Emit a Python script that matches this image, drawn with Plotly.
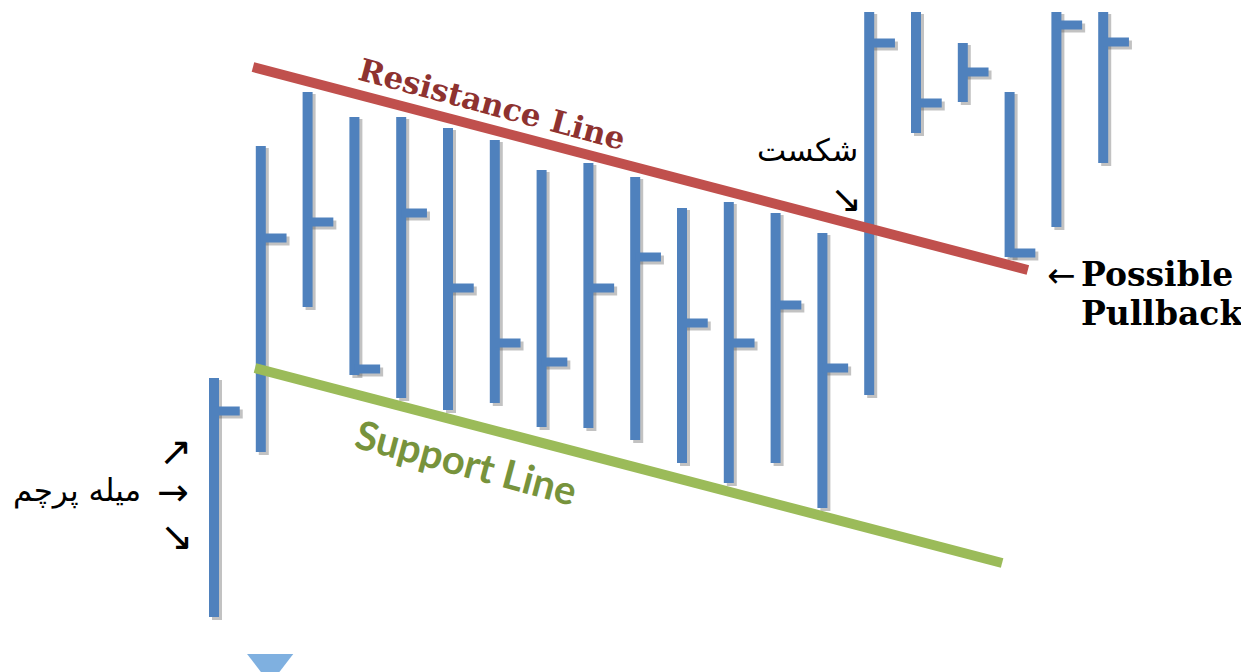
import plotly.graph_objects as go

# bar chart data (price units = pixels from the bottom of the picture)
bar_index = list(range(20))
high = [294, 526, 580, 555, 555, 544, 532, 502, 509, 495, 464, 470, 459, 439, 660, 660, 629, 580, 660, 660]
low = [55, 220, 365, 297, 274, 262, 269, 245, 244, 232, 209, 189, 209, 164, 277, 539, 570, 415, 445, 509]
close = [261, 434, 450, 303, 459, 384, 329, 310, 384, 415, 349, 329, 367, 304, 629, 569, 600, 419, 647, 630]

# trend lines
resistance_x = [0.833, 17.39]
resistance_y = [605, 402]
support_x = [0.876, 16.84]
support_y = [304, 109]

# flag pole marker at the bottom
marker_x = [1.2]
marker_y = [8]

BLUE = "#4F81BD"
PX = 46.8      # pixels per bar
X0 = 214       # pixel position of first bar
TICK = 0.55    # close tick length in bars
PAGE = 8       # body margin of the html page


def xi(px):
    return (px - X0) / PX


def segs(xs0, ys0, xs1, ys1):
    xs, ys = [], []
    for a, b, c, d in zip(xs0, ys0, xs1, ys1):
        xs += [a, c, None]
        ys += [b, d, None]
    return xs, ys


fig = go.Figure()

# soft shadow behind bars
dx = 3 / PX
sx, sy = segs([i + dx for i in bar_index], [h - 2 for h in high],
              [i + dx for i in bar_index], [l - 3 for l in low])
fig.add_trace(go.Scatter(x=sx, y=sy, mode="lines",
                         line=dict(color="rgba(80,80,80,0.35)", width=10), hoverinfo="skip"))
tx, ty = segs([i + dx for i in bar_index], [c - 3 for c in close],
              [i + TICK + dx for i in bar_index], [c - 3 for c in close])
fig.add_trace(go.Scatter(x=tx, y=ty, mode="lines",
                         line=dict(color="rgba(80,80,80,0.35)", width=9), hoverinfo="skip"))

# bars and close ticks
bx, by = segs(bar_index, high, bar_index, low)
fig.add_trace(go.Scatter(x=bx, y=by, mode="lines", line=dict(color=BLUE, width=10)))
cx, cy = segs(bar_index, close, [i + TICK for i in bar_index], close)
fig.add_trace(go.Scatter(x=cx, y=cy, mode="lines", line=dict(color=BLUE, width=9)))

# resistance / support
fig.add_trace(go.Scatter(x=resistance_x, y=resistance_y, mode="lines",
                         line=dict(color="#C0504D", width=10)))
fig.add_trace(go.Scatter(x=support_x, y=support_y, mode="lines",
                         line=dict(color="#9BBB59", width=10)))

fig.add_trace(go.Scatter(x=marker_x, y=marker_y, mode="markers",
                         marker=dict(symbol="triangle-down", size=40, color="#7FB0E0")))

ann = [
    dict(text="Resistance Line", x=xi(492), y=672 - 104, textangle=15,
         font=dict(family="DejaVu Serif", size=31, color="#8E3230", weight="bold")),
    dict(text="Support Line", x=xi(466), y=672 - 462, textangle=15,
         font=dict(family="Lato", size=40, color="#77933C", weight="bold")),
    dict(text="←", x=xi(1061), y=672 - 275,
         font=dict(family="DejaVu Sans", size=34, color="black")),
    dict(text="Possible", x=xi(1079), y=672 - 274, xanchor="left",
         font=dict(family="DejaVu Serif", size=33, color="black", weight="bold")),
    dict(text="Pullback", x=xi(1079), y=672 - 313, xanchor="left",
         font=dict(family="DejaVu Serif", size=33, color="black", weight="bold")),
    dict(text="شکست", x=xi(807), y=672 - 150,
         font=dict(family="DejaVu Sans", size=31, color="black")),
    dict(text="↘", x=xi(846), y=672 - 199,
         font=dict(family="DejaVu Sans", size=38, color="black")),
    dict(text="میله پرچم", x=xi(77), y=672 - 490,
         font=dict(family="DejaVu Sans", size=31, color="black")),
    dict(text="↗", x=xi(176), y=672 - 451,
         font=dict(family="DejaVu Sans", size=40, color="black")),
    dict(text="→", x=xi(173), y=672 - 492,
         font=dict(family="DejaVu Sans", size=38, color="black")),
    dict(text="↘", x=xi(177), y=672 - 536,
         font=dict(family="DejaVu Sans", size=40, color="black")),
]
for a in ann:
    a.update(xref="x", yref="y", showarrow=False)

# the page has an 8px body margin, so the figure covers viewport 8..1249 / 8..672
fig.update_layout(
    width=1249 - PAGE, height=672 - PAGE,
    margin=dict(l=0, r=0, t=0, b=0),
    paper_bgcolor="white", plot_bgcolor="white",
    showlegend=False,
    annotations=ann,
    xaxis=dict(range=[xi(PAGE), xi(1249)], visible=False, fixedrange=True),
    yaxis=dict(range=[0, 672 - PAGE], visible=False, fixedrange=True),
)

fig.write_html("out.html")
